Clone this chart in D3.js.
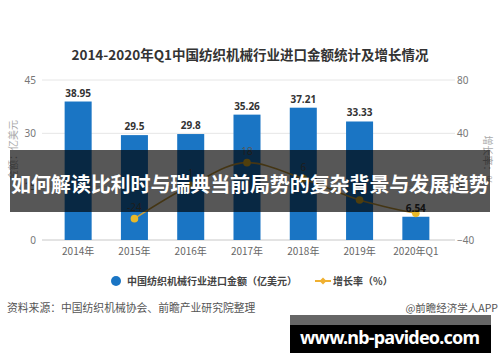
<!DOCTYPE html>
<html>
<head>
<meta charset="utf-8">
<script src="https://cdn.jsdelivr.net/npm/d3@7"></script>
<style>
  body { margin: 0; background: #fff; }
  text { font-family: "Noto Sans CJK SC", "Noto Sans", sans-serif; }
</style>
</head>
<body>
<div id="chart"></div>
<script>
// data
var categories = ['2014年', '2015年', '2016年', '2017年', '2018年', '2019年', '2020年Q1'];
var amounts = [38.95, 29.5, 29.8, 35.26, 37.21, 33.33, 6.54];
var growth = [null, -24, 1, 18, 6, -10, -20];
var leftTicks = [0, 15, 30, 45];
var rightTicks = [-40, 0, 40, 80];

var width = 500,
    height = 362;

var svg = d3.select('#chart').append('svg')
    .attr('width', width)
    .attr('height', height);

// scales
var x = d3.scaleBand().domain(categories).range([50, 444]).paddingInner(0.52).paddingOuter(0.26);
var yL = d3.scaleLinear().domain([0, 45]).range([240, 80]);
var yR = d3.scaleLinear().domain([-40, 80]).range([240, 80]);

// title
svg.append('text')
    .attr('x', 250).attr('y', 60)
    .attr('text-anchor', 'middle')
    .style('font-size', '13.5px').style('font-weight', 'bold').style('fill', '#333')
    .text('2014-2020年Q1中国纺织机械行业进口金额统计及增长情况');

// gridlines
svg.selectAll('.grid')
    .data(leftTicks)
  .enter().append('line')
    .attr('x1', 42).attr('x2', 455)
    .attr('y1', function(d){ return yL(d); })
    .attr('y2', function(d){ return yL(d); })
    .style('stroke', function(d){ return d == 0 ? '#c8c8c8' : '#e6e6e6'; })
    .style('stroke-width', 1);

// left axis
var axL = svg.append('g').attr('transform', 'translate(38,0)')
    .call(d3.axisLeft(yL).tickValues(leftTicks).tickSize(0).tickPadding(2));
axL.select('.domain').remove();
axL.selectAll('text').style('font-size', '10px').style('fill', '#777')
    .style('font-family', '"Noto Sans", sans-serif');

// right axis
var axR = svg.append('g').attr('transform', 'translate(457,0)')
    .call(d3.axisRight(yR).tickValues(rightTicks).tickSize(0).tickPadding(0));
axR.select('.domain').remove();
axR.selectAll('text').style('font-size', '10px').style('fill', '#777')
    .style('font-family', '"Noto Sans", sans-serif');

// x axis
var axX = svg.append('g').attr('transform', 'translate(0,240)')
    .call(d3.axisBottom(x).tickSize(0).tickPadding(8));
axX.select('.domain').remove();
axX.selectAll('text').style('font-size', '10px').style('fill', '#666');

// axis titles
svg.append('text')
    .attr('transform', 'translate(17,150) rotate(-90)')
    .attr('text-anchor', 'middle')
    .style('font-size', '10px').style('fill', '#aaa')
    .text('金额：亿美元');
svg.append('text')
    .attr('transform', 'translate(484,160) rotate(90)')
    .attr('text-anchor', 'middle')
    .style('font-size', '10px').style('fill', '#aaa')
    .text('增长率：%');

// bars
svg.selectAll('.bar')
    .data(amounts)
  .enter().append('rect')
    .attr('class', 'bar')
    .attr('x', function(d, i){ return x(categories[i]); })
    .attr('width', x.bandwidth())
    .attr('y', function(d){ return yL(d); })
    .attr('height', function(d){ return yL(0) - yL(d); })
    .style('fill', '#1a75c4');

// growth line
var pts = growth.map(function(d, i){ return {v: d, c: categories[i]}; })
    .filter(function(d){ return d.v !== null; });

var line = d3.line()
    .x(function(d){ return x(d.c) + x.bandwidth() / 2; })
    .y(function(d){ return yR(d.v); })
    .curve(d3.curveMonotoneX);

svg.append('path')
    .datum(pts)
    .attr('d', line)
    .style('fill', 'none')
    .style('stroke', '#c79d3c')
    .style('stroke-width', 1.6);

svg.selectAll('.pt')
    .data(pts)
  .enter().append('circle')
    .attr('cx', function(d){ return x(d.c) + x.bandwidth() / 2; })
    .attr('cy', function(d){ return yR(d.v); })
    .attr('r', 3.8)
    .style('fill', '#e8b828');

svg.selectAll('.ptlabel')
    .data(pts.slice(0, pts.length - 1))
  .enter().append('text')
    .attr('x', function(d){ return x(d.c) + x.bandwidth() / 2; })
    .attr('y', function(d){ return yR(d.v) - 8; })
    .attr('text-anchor', 'middle')
    .style('font-size', '10px').style('fill', '#555')
    .style('font-family', '"Noto Sans", sans-serif')
    .text(function(d){ return d.v; });

// bar labels
svg.selectAll('.barlabel')
    .data(amounts)
  .enter().append('text')
    .attr('x', function(d, i){ return x(categories[i]) + x.bandwidth() / 2; })
    .attr('y', function(d){ return yL(d) - 5; })
    .attr('text-anchor', 'middle')
    .style('font-size', '10px').style('font-weight', 'bold').style('fill', '#333')
    .style('font-family', '"Noto Sans", sans-serif')
    .text(function(d){ return d; });

// legend
svg.append('circle').attr('cx', 116).attr('cy', 281).attr('r', 5).style('fill', '#1a75c4');
svg.append('text').attr('x', 127).attr('y', 285)
    .style('font-size', '10px').style('font-weight', 'bold').style('fill', '#444')
    .text('中国纺织机械行业进口金额（亿美元）');
svg.append('line').attr('x1', 315).attr('x2', 331).attr('y1', 281).attr('y2', 281)
    .style('stroke', '#f0b030').style('stroke-width', 2);
svg.append('path').attr('d', 'M323,277.5L326.5,281L323,284.5L319.5,281Z').style('fill', '#f0b030');
svg.append('text').attr('x', 333).attr('y', 285)
    .style('font-size', '10px').style('font-weight', 'bold').style('fill', '#444')
    .text('增长率（%）');

// source
svg.append('text').attr('x', 7).attr('y', 312)
    .style('font-size', '10.8px').style('fill', '#555')
    .text('资料来源：中国纺织机械协会、前瞻产业研究院整理');
svg.append('text').attr('x', 498).attr('y', 312)
    .attr('text-anchor', 'end')
    .style('font-size', '10.5px').style('fill', '#555')
    .text('@前瞻经济学人APP');

// overlay banner
svg.append('rect').attr('x', 10).attr('y', 150).attr('width', 480).attr('height', 62)
    .style('fill', 'rgba(0,0,0,0.66)');
svg.append('text').attr('x', 250).attr('y', 192)
    .attr('text-anchor', 'middle')
    .style('font-size', '20px').style('font-weight', 'bold').style('fill', '#fff')
    .attr('textLength', 478)
    .text('如何解读比利时与瑞典当前局势的复杂背景与发展趋势');

// watermark box
svg.append('rect').attr('x', 290).attr('y', 315).attr('width', 201).attr('height', 10).style('fill', '#666');
svg.append('rect').attr('x', 290).attr('y', 325).attr('width', 201).attr('height', 28).style('fill', '#000');
svg.append('text').attr('x', 390).attr('y', 344)
    .attr('text-anchor', 'middle')
    .attr('textLength', 180)
    .style('font-size', '18px').style('font-weight', 'bold').style('fill', '#fff')
    .style('font-family', '"Noto Sans", sans-serif')
    .text('www.nb-pavideo.com');
</script>
</body>
</html>
